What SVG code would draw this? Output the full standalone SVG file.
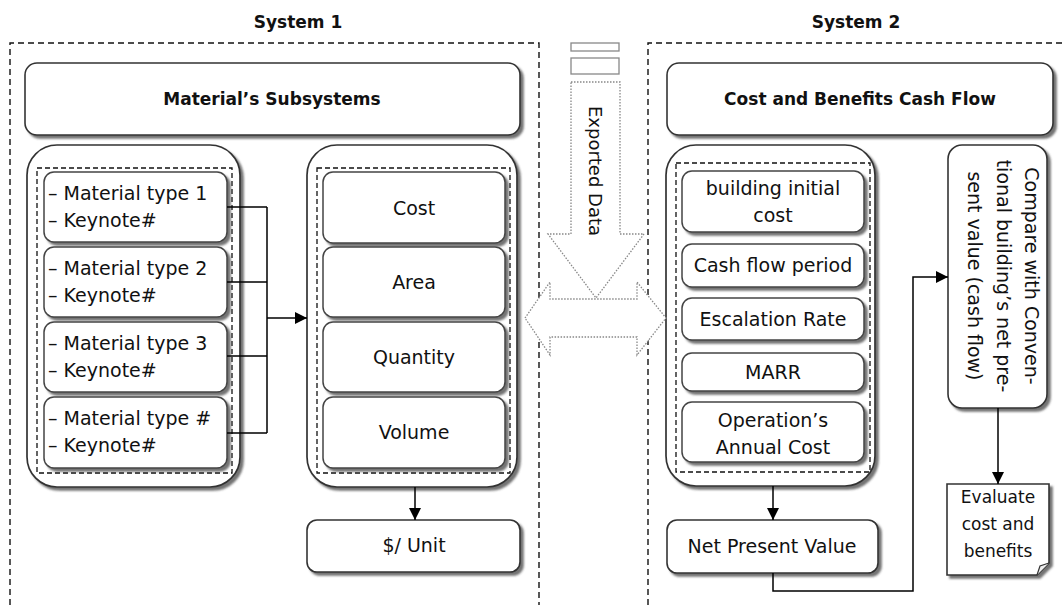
<svg xmlns="http://www.w3.org/2000/svg" width="1064" height="605" viewBox="0 0 1064 605">
<defs>
<filter id="sh" x="-10%" y="-10%" width="130%" height="130%">
<feDropShadow dx="3" dy="3" stdDeviation="1.2" flood-color="#444" flood-opacity="0.75"/>
</filter>
<marker id="ah" markerUnits="userSpaceOnUse" markerWidth="12" markerHeight="12" viewBox="0 0 12 12" refX="12" refY="6" orient="auto">
<path d="M0,0 L12,6 L0,12 z" fill="#000"/>
</marker>
<style>
.sys{fill:none;stroke:#111;stroke-width:1.4;stroke-dasharray:6 4}
.box{fill:#fff;stroke:#333;stroke-width:1.6;filter:url(#sh)}
.cont{fill:#fff;stroke:#333;stroke-width:1.7;filter:url(#sh)}
.inner{fill:none;stroke:#111;stroke-width:1.3;stroke-dasharray:5 3}
.item{fill:#fff;stroke:#444;stroke-width:1.5;filter:url(#sh)}
.dot{fill:#fff;stroke:#888;stroke-width:1.3;stroke-dasharray:1.5 1.5}
.plain{fill:#fff;stroke:#888;stroke-width:1.3}
.t{font-family:"DejaVu Sans",Verdana,sans-serif;font-size:19px;fill:#111}
.b{font-family:"DejaVu Sans",Verdana,sans-serif;font-size:17px;font-weight:bold;fill:#111}
.c{text-anchor:middle}
.con{fill:none;stroke:#000;stroke-width:1.5}
</style>
</defs>
<rect width="1064" height="605" fill="#fff"/>

<g id="system1">
<path class="sys" d="M10,605 V43 H539 V605"/>
<text class="b c" x="298" y="28">System 1</text>
</g>
<g id="system2">
<path class="sys" d="M648,605 V43 H1064"/>
<text class="b c" x="856" y="28">System 2</text>
</g>

<g id="materials-subsystems">
<rect class="box" x="25" y="63" width="495" height="72" rx="12"/>
<text class="b c" x="272" y="105">Material’s Subsystems</text>
</g>

<g id="cost-benefits">
<rect class="box" x="667" y="63" width="386" height="72" rx="12"/>
<text class="b c" x="860" y="105">Cost and Benefits Cash Flow</text>
</g>

<g id="material-types">
<rect class="cont" x="27" y="145" width="213" height="342" rx="30"/>
<rect class="inner" x="37" y="168" width="195" height="305"/>
<rect class="item" x="44" y="172" width="183" height="70" rx="10"/>
<rect class="item" x="44" y="247" width="183" height="70" rx="10"/>
<rect class="item" x="44" y="322" width="183" height="70" rx="10"/>
<rect class="item" x="44" y="397" width="183" height="71" rx="10"/>
<text class="t" x="48" y="200">– Material type 1</text>
<text class="t" x="48" y="227">– Keynote#</text>
<text class="t" x="48" y="275">– Material type 2</text>
<text class="t" x="48" y="302">– Keynote#</text>
<text class="t" x="48" y="350">– Material type 3</text>
<text class="t" x="48" y="377">– Keynote#</text>
<text class="t" x="48" y="425">– Material type #</text>
<text class="t" x="48" y="452">– Keynote#</text>
</g>

<g id="quantities">
<rect class="cont" x="307" y="145" width="210" height="342" rx="30"/>
<rect class="inner" x="317" y="168" width="193" height="305"/>
<rect class="item" x="323" y="172" width="182" height="71" rx="10"/>
<rect class="item" x="323" y="247" width="182" height="70" rx="10"/>
<rect class="item" x="323" y="322" width="182" height="70" rx="10"/>
<rect class="item" x="323" y="397" width="182" height="71" rx="10"/>
<text class="t c" x="414" y="215">Cost</text>
<text class="t c" x="414" y="289">Area</text>
<text class="t c" x="414" y="364">Quantity</text>
<text class="t c" x="414" y="439">Volume</text>
</g>

<g id="unit-price">
<rect class="box" x="307" y="520" width="213" height="52" rx="10"/>
<text class="t c" x="414" y="552">$/ Unit</text>
</g>

<g id="cash-flow-inputs">
<rect class="cont" x="666" y="145" width="209" height="341" rx="30"/>
<rect class="inner" x="676" y="163" width="194" height="309"/>
<rect class="item" x="682" y="171" width="182" height="61" rx="10"/>
<rect class="item" x="682" y="244" width="182" height="43" rx="10"/>
<rect class="item" x="682" y="298" width="182" height="42" rx="10"/>
<rect class="item" x="682" y="353" width="182" height="38" rx="10"/>
<rect class="item" x="682" y="402" width="182" height="60" rx="10"/>
<text class="t c" x="773" y="195">building initial</text>
<text class="t c" x="773" y="222">cost</text>
<text class="t c" x="773" y="272">Cash flow period</text>
<text class="t c" x="773" y="326">Escalation Rate</text>
<text class="t c" x="773" y="379">MARR</text>
<text class="t c" x="773" y="427">Operation’s</text>
<text class="t c" x="773" y="454">Annual Cost</text>
</g>

<g id="net-present-value">
<rect class="box" x="667" y="520" width="211" height="53" rx="10"/>
<text class="t c" x="772" y="553">Net Present Value</text>
</g>

<g id="compare">
<rect class="box" x="948" y="145" width="99" height="263" rx="14"/>
<g transform="rotate(90)">
<text class="t c" x="276" y="-1025">Compare with Conven-</text>
<text class="t c" x="276" y="-997">tional building’s net pre-</text>
<text class="t c" x="276" y="-968">sent value (cash flow)</text>
</g>
</g>

<g id="evaluate">
<path class="box" d="M947,484 H1049 V563 L1037,575 H947 Z"/>
<path d="M1037,575 L1040,566 L1049,563" fill="#eee" stroke="#333" stroke-width="1.2"/>
<text class="t c" x="998" y="503" style="font-size:17px">Evaluate</text>
<text class="t c" x="998" y="530" style="font-size:17px">cost and</text>
<text class="t c" x="998" y="557" style="font-size:17px">benefits</text>
</g>

<g id="exported-data">
<rect class="plain" x="571" y="43" width="48" height="8"/>
<rect class="plain" x="571" y="58" width="48" height="16"/>
<polygon class="dot" points="525,318 550,282 550,299 637,299 637,282 666,318 637,355 637,337 550,337 550,355"/>
<polygon class="dot" points="571,82 620,82 620,234 644,234 596,298 548,234 571,234"/>
<text class="t c" transform="translate(595,171) rotate(90)" y="6" style="font-size:18px">Exported Data</text>
</g>

<g id="connectors">
<path class="con" d="M227,207 H267 M227,282 H267 M227,356 H267 M227,433 H267 M267,207 V433"/>
<path class="con" d="M267,318 H307" marker-end="url(#ah)"/>
<path class="con" d="M415,487 V520" marker-end="url(#ah)"/>
<path class="con" d="M773,486 V520" marker-end="url(#ah)"/>
<path class="con" d="M773,573 V591 H913 V277 H948" marker-end="url(#ah)"/>
<path class="con" d="M998,408 V484" marker-end="url(#ah)"/>
</g>
</svg>
